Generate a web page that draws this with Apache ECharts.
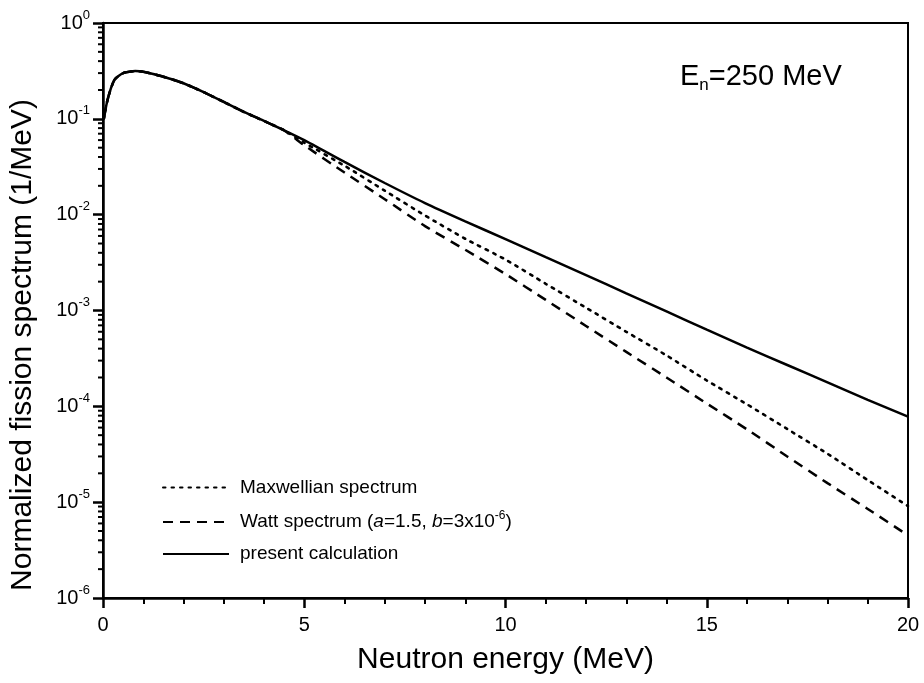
<!DOCTYPE html>
<html>
<head>
<meta charset="utf-8">
<script src="https://cdn.jsdelivr.net/npm/echarts@6/dist/echarts.min.js"></script>
<style>
html,body{margin:0;padding:0;background:#fff;}
#chart{width:924px;height:683px;}
</style>
</head>
<body>
<div id="chart"></div>
<script>
// Neutron energy (MeV)
const energy = [0.02, 0.1, 0.2, 0.3, 0.5, 0.8, 1.0, 1.5, 2, 2.5, 3, 3.5, 4, 4.5, 5, 6, 7, 8, 9, 10, 11, 12, 13, 14, 15, 16, 17, 18, 19, 20];
// present calculation (1/MeV)
const presentCalc = [0.1, 0.15, 0.21, 0.26, 0.30, 0.315, 0.31, 0.275, 0.235, 0.19, 0.15, 0.118, 0.095, 0.076, 0.060, 0.0355, 0.0214, 0.0132, 0.00851, 0.00556, 0.0036, 0.00234, 0.00151, 0.00098, 0.00063, 0.00041, 0.00027, 0.000178, 0.000117, 0.000078];
// Maxwellian spectrum
const maxwellian = [0.1, 0.15, 0.21, 0.26, 0.30, 0.315, 0.31, 0.275, 0.235, 0.19, 0.15, 0.118, 0.095, 0.076, 0.0565, 0.0324, 0.0178, 0.0098, 0.0056, 0.0034, 0.0019, 0.00107, 0.00060, 0.00034, 0.000186, 0.000105, 0.000058, 0.000032, 0.000017, 0.0000091];
// Watt spectrum (a=1.5, b=3x10^-6)
const watt = [0.1, 0.15, 0.21, 0.26, 0.30, 0.315, 0.31, 0.275, 0.235, 0.19, 0.15, 0.118, 0.095, 0.0755, 0.053, 0.0275, 0.0145, 0.0076, 0.0043, 0.0024, 0.00129, 0.00069, 0.00037, 0.00020, 0.000107, 0.0000575, 0.000030, 0.0000158, 0.0000085, 0.0000045];

const yMinorMultipliers = [2, 3, 4, 5, 6, 7, 8, 9];
const yDecadeExponents = [-6, -5, -4, -3, -2, -1];

const seriesNames = ['Maxwellian spectrum', 'Watt spectrum (a=1.5, b=3x10-6)', 'present calculation'];

const FONT = '"Liberation Sans", Arial, Helvetica, sans-serif';

function pairs(ys) { return energy.map((e, i) => [e, ys[i]]); }

const chart = echarts.init(document.getElementById('chart'), null, {renderer: 'canvas'});

const option = {
  animation: false,
  backgroundColor: '#fff',
  textStyle: {fontFamily: FONT, color: '#000'},
  grid: {left: 103, right: 16, top: 23, bottom: 85, show: true, borderColor: '#000', borderWidth: 2, backgroundColor: 'transparent'},
  xAxis: {
    type: 'value', min: 0, max: 20, interval: 5,
    axisLine: {onZero: false, lineStyle: {color: '#000', width: 2.5}},
    axisTick: {inside: false, length: 10, lineStyle: {color: '#000', width: 2.5}},
    minorTick: {show: true, splitNumber: 5, length: 6, lineStyle: {color: '#000', width: 2}},
    splitLine: {show: false},
    axisLabel: {fontSize: 20, color: '#000', margin: 17, fontFamily: FONT},
    name: 'Neutron energy (MeV)', nameLocation: 'middle', nameGap: 47,
    nameTextStyle: {fontSize: 30, color: '#000', fontFamily: FONT}
  },
  yAxis: {
    type: 'log', logBase: 10, min: 1e-6, max: 1, splitNumber: 6,
    axisLine: {lineStyle: {color: '#000', width: 2.5}},
    axisTick: {inside: false, length: 10, lineStyle: {color: '#000', width: 2.5}},
    splitLine: {show: false},
    axisLabel: {
      fontSize: 20, color: '#000', margin: 13, fontFamily: FONT,
      formatter: function (v) {
        const e = Math.round(Math.log10(v));
        return '{b|10}{sup|' + e + '}';
      },
      rich: {
        b: {fontSize: 20, fontFamily: FONT, color: '#000'},
        sup: {fontSize: 13, fontFamily: FONT, color: '#000', padding: [0, 0, 16, 0]}
      }
    }
  },
  legend: {
    orient: 'vertical', left: 157, top: 473, itemWidth: 66, itemHeight: 14, itemGap: 13,
    itemStyle: {opacity: 0, borderWidth: 0},
    lineStyle: {opacity: 1},
    textStyle: {fontSize: 19, color: '#000', fontFamily: FONT, padding: [0, 0, 0, 6],
      rich: {
        t: {fontSize: 19, fontFamily: FONT, color: '#000'},
        i: {fontSize: 19, fontStyle: 'italic', fontFamily: FONT, color: '#000'},
        sup: {fontSize: 12, fontFamily: FONT, color: '#000', padding: [0, 0, 12, 0]}
      }},
    formatter: function (name) {
      if (name.indexOf('Watt') === 0) return '{t|Watt spectrum (}{i|a}{t|=1.5, }{i|b}{t|=3x10}{sup|-6}{t|)}';
      return name;
    },
    data: seriesNames
  },
  series: [
    {name: seriesNames[0], type: 'line', data: pairs(maxwellian), showSymbol: false, symbol: 'none', smooth: 0.2,
     lineStyle: {color: '#000', width: 2.6, type: [2.5, 6], cap: 'round'}, itemStyle: {color: '#000'}, z: 3},
    {name: seriesNames[1], type: 'line', data: pairs(watt), showSymbol: false, symbol: 'none', smooth: 0.2,
     lineStyle: {color: '#000', width: 2.5, type: [10, 7]}, itemStyle: {color: '#000'}, z: 4},
    {name: seriesNames[2], type: 'line', data: pairs(presentCalc), showSymbol: false, symbol: 'none', smooth: 0.2,
     lineStyle: {color: '#000', width: 2.5, type: 'solid'}, itemStyle: {color: '#000'}, z: 5}
  ]
};
chart.setOption(option);

// Minor logarithmic ticks on y axis, placed through the axis scale
const x0 = chart.convertToPixel({xAxisIndex: 0}, 0);
const gfx = [];
yDecadeExponents.forEach(function (ex) {
  yMinorMultipliers.forEach(function (m) {
    const v = m * Math.pow(10, ex);
    const py = chart.convertToPixel({yAxisIndex: 0}, v);
    gfx.push({type: 'line', shape: {x1: x0 - 5, y1: py, x2: x0, y2: py}, style: {stroke: '#000', lineWidth: 2}, silent: true});
  });
});
// Y axis title
gfx.push({type: 'text', x: 23, y: 345, rotation: Math.PI / 2,
  style: {text: 'Normalized fission spectrum (1/MeV)', font: '30px ' + FONT, fill: '#000', align: 'center', verticalAlign: 'middle'}});
// Annotation
gfx.push({type: 'text', x: 680, y: 77,
  style: {text: 'E{sub|n}=250 MeV', font: '29px ' + FONT, fill: '#000', align: 'left', verticalAlign: 'middle',
    rich: {sub: {font: '17px ' + FONT, fill: '#000', padding: [16, 0, 0, 0]}}}});
chart.setOption({graphic: gfx});
</script>
</body>
</html>
